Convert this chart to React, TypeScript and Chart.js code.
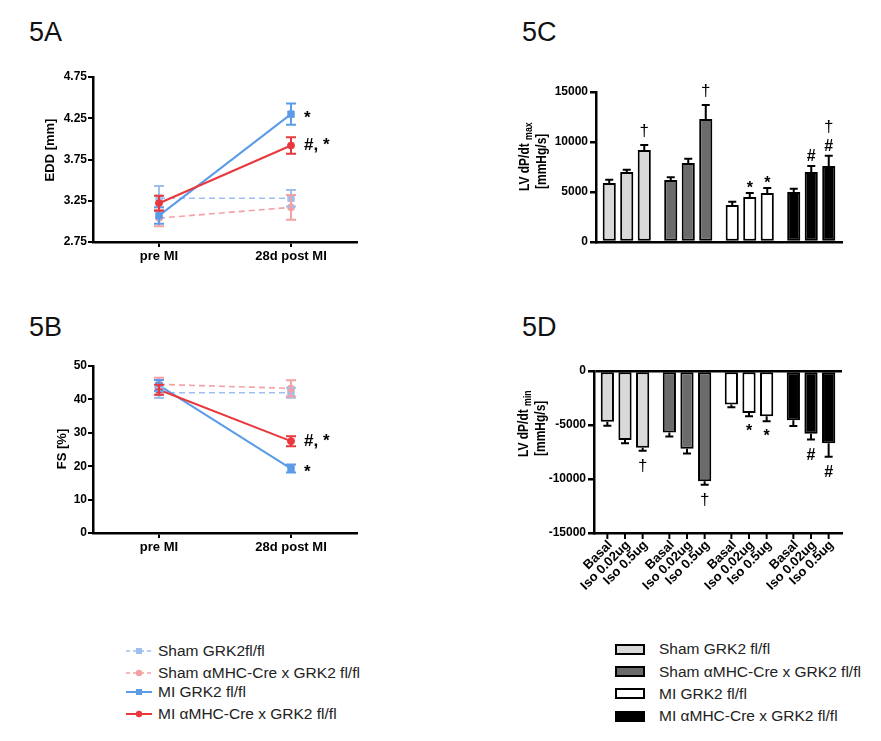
import React, { useEffect, useRef } from "react";
import { Chart, registerables } from "chart.js";

Chart.register(...registerables);

const FONT = '"Liberation Sans", Arial, Helvetica, sans-serif';
Chart.defaults.font.family = FONT;
Chart.defaults.color = "#000";

// ---------------- 5A / 5B data ----------------
const timePoints = ["pre MI", "28d post MI"];
const lineSeries = [
  "Sham GRK2fl/fl",
  "Sham αMHC-Cre x GRK2 fl/fl",
  "MI GRK2 fl/fl",
  "MI αMHC-Cre x GRK2 fl/fl",
];

const eddShamFl = [3.28, 3.28];
const eddShamFlErr = [0.15, 0.1];
const eddShamCre = [3.04, 3.17];
const eddShamCreErr = [0.1, 0.15];
const eddMiFl = [3.07, 4.3];
const eddMiFlErr = [0.1, 0.13];
const eddMiCre = [3.22, 3.92];
const eddMiCreErr = [0.09, 0.1];
const eddMiFlMarks = ["", "*"];
const eddMiCreMarks = ["", "#, *"];

const fsShamFl = [42, 42];
const fsShamFlErr = [1.6, 1.5];
const fsShamCre = [44.5, 43.3];
const fsShamCreErr = [2.0, 2.4];
const fsMiFl = [44.2, 19.3];
const fsMiFlErr = [1.6, 1.2];
const fsMiCre = [42.9, 27.5];
const fsMiCreErr = [1.5, 1.5];
const fsMiFlMarks = ["", "*"];
const fsMiCreMarks = ["", "#, *"];

// ---------------- 5C / 5D data ----------------
const barGroups = [
  "Sham GRK2 fl/fl",
  "Sham αMHC-Cre x GRK2 fl/fl",
  "MI GRK2 fl/fl",
  "MI αMHC-Cre x GRK2 fl/fl",
];
const doses = ["Basal", "Iso 0.02ug", "Iso 0.5ug"];

const maxBasal = [5900, 6200, 3700, 5000];
const maxBasalErr = [330, 270, 330, 330];
const maxIsoLow = [7000, 7900, 4500, 7000];
const maxIsoLowErr = [230, 430, 400, 600];
const maxIsoHigh = [9200, 12300, 4900, 7600];
const maxIsoHighErr = [500, 1400, 500, 1030];
const maxBasalMarks = [[], [], [], []];
const maxIsoLowMarks = [[], [], ["*"], ["#"]];
const maxIsoHighMarks = [["†"], ["†"], ["*"], ["#", "†"]];

const minBasal = [-4700, -5700, -3100, -4550];
const minBasalErr = [370, 370, 250, 550];
const minIsoLow = [-6400, -7200, -3900, -5800];
const minIsoLowErr = [300, 430, 280, 550];
const minIsoHigh = [-7100, -10200, -4200, -6700];
const minIsoHighErr = [280, 340, 460, 1230];
const minBasalMarks = [[], [], [], []];
const minIsoLowMarks = [[], [], ["*"], ["#"]];
const minIsoHighMarks = [["†"], ["†"], ["*"], ["#"]];

const panelTitles = ["5A", "5B", "5C", "5D"];
const eddTitle = "EDD [mm]";
const fsTitle = "FS [%]";
const dpTitleMain = "LV dP/dt ";
const dpMaxSub = "max";
const dpMinSub = "min";
const dpUnit = "[mmHg/s]";

// ---------------- styling ----------------
const C = {
  shamFl: "#9fc0ef",
  shamCre: "#f3a1a4",
  miFl: "#5b9be8",
  miCre: "#e8383d",
};
const groupColors = ["#d9d9d9", "#6b6b6b", "#ffffff", "#000000"];

// ---------------- plugins ----------------
function glyphFont(t: string) {
  return t === "†" ? `17px ${FONT}` : `bold 16px ${FONT}`;
}

function drawCentered(ctx: CanvasRenderingContext2D, text: string, x: number, cy: number, align: CanvasTextAlign) {
  ctx.textAlign = align;
  ctx.textBaseline = "alphabetic";
  const m = ctx.measureText(text);
  const asc = m.actualBoundingBoxAscent;
  const desc = m.actualBoundingBoxDescent;
  ctx.fillText(text, x, cy + (asc - desc) / 2);
  return asc + desc;
}

const errorPlugin = {
  id: "errBars",
  afterDatasetsDraw(chart: any) {
    const ctx: CanvasRenderingContext2D = chart.ctx;
    const yScale = chart.scales.y;
    const isBar = chart.config.type === "bar";
    chart.data.datasets.forEach((ds: any, i: number) => {
      const meta = chart.getDatasetMeta(i);
      if (!ds.errors) return;
      meta.data.forEach((el: any, j: number) => {
        const v = ds.data[j];
        const e = ds.errors[j];
        const x = el.x;
        ctx.save();
        ctx.strokeStyle = isBar ? "#000" : ds.borderColor;
        ctx.lineWidth = 2;
        ctx.beginPath();
        if (isBar) {
          const end = v >= 0 ? v + e : v - e;
          const y0 = yScale.getPixelForValue(v);
          const y1 = yScale.getPixelForValue(end);
          ctx.moveTo(x, y0);
          ctx.lineTo(x, y1);
          ctx.moveTo(x - 4, y1);
          ctx.lineTo(x + 4, y1);
          ctx.stroke();
          const marks: string[] = (ds.marks && ds.marks[j]) || [];
          ctx.fillStyle = "#000";
          let edge = y1;
          marks.forEach((t: string, k: number) => {
            ctx.font = glyphFont(t);
            const m = ctx.measureText(t);
            const h = m.actualBoundingBoxAscent + m.actualBoundingBoxDescent;
            const gap = k === 0 ? (v >= 0 ? (t === "†" ? 8 : 5) : 8) : 6;
            const cy = v >= 0 ? edge - gap - h / 2 : edge + gap + h / 2;
            drawCentered(ctx, t, x, cy, "center");
            edge = v >= 0 ? cy - h / 2 : cy + h / 2;
          });
        } else {
          const yt = yScale.getPixelForValue(v + e);
          const yb = yScale.getPixelForValue(v - e);
          ctx.moveTo(x, yt);
          ctx.lineTo(x, yb);
          ctx.moveTo(x - 5, yt);
          ctx.lineTo(x + 5, yt);
          ctx.moveTo(x - 5, yb);
          ctx.lineTo(x + 5, yb);
          ctx.stroke();
          const t = ds.marks ? ds.marks[j] : "";
          if (t) {
            ctx.fillStyle = "#000";
            ctx.font = `bold 17px ${FONT}`;
            drawCentered(ctx, t, x + 13, el.y, "left");
          }
        }
        ctx.restore();
      });
    });
  },
};

const sideTitlePlugin = {
  id: "sideTitle",
  afterDraw(chart: any, _args: any, opts: any) {
    const ctx: CanvasRenderingContext2D = chart.ctx;
    (opts.lines || []).forEach((line: any) => {
      ctx.save();
      ctx.translate(line.x, line.y);
      ctx.rotate(-Math.PI / 2);
      ctx.scale(line.squeeze || 1, 1);
      ctx.fillStyle = "#000";
      ctx.textBaseline = "middle";
      ctx.textAlign = "left";
      const mainFont = `bold ${line.size}px ${FONT}`;
      const subFont = `bold ${Math.round(line.size * 0.72)}px ${FONT}`;
      let total = 0;
      line.parts.forEach((p: any) => {
        ctx.font = p.sub ? subFont : mainFont;
        total += ctx.measureText(p.text).width;
      });
      let cx = line.align === "center" ? -total / 2 : 0;
      line.parts.forEach((p: any) => {
        ctx.font = p.sub ? subFont : mainFont;
        ctx.fillText(p.text, cx, p.sub ? 4 : 0);
        cx += ctx.measureText(p.text).width;
      });
      ctx.restore();
    });
  },
};

const barLabelPlugin = {
  id: "barLabels",
  afterDraw(chart: any, _args: any, opts: any) {
    if (!opts.labels) return;
    const ctx: CanvasRenderingContext2D = chart.ctx;
    const bottom = chart.chartArea.bottom;
    chart.data.datasets.forEach((_ds: any, i: number) => {
      const meta = chart.getDatasetMeta(i);
      meta.data.forEach((el: any) => {
        ctx.save();
        ctx.strokeStyle = "#000";
        ctx.lineWidth = 2;
        ctx.beginPath();
        ctx.moveTo(el.x, bottom);
        ctx.lineTo(el.x, bottom + 6);
        ctx.stroke();
        ctx.translate(el.x + 3, bottom + 10);
        ctx.rotate(-Math.PI / 4);
        ctx.font = `bold 13px ${FONT}`;
        ctx.fillStyle = "#000";
        ctx.textAlign = "right";
        ctx.textBaseline = "middle";
        ctx.fillText(opts.labels[i], 0, 0);
        ctx.restore();
      });
    });
  },
};

// ---------------- config builders ----------------
type LineSpec = {
  shamFl: number[]; shamFlErr: number[];
  shamCre: number[]; shamCreErr: number[];
  miFl: number[]; miFlErr: number[];
  miCre: number[]; miCreErr: number[];
  miFlMarks: string[]; miCreMarks: string[];
  min: number; max: number; step: number; decimals: number;
  padTop: number; xHeight: number;
  title: any;
};

function lineConfig(p: LineSpec): any {
  const mk = (label: string, data: number[], errors: number[], color: string, dashed: boolean, rect: boolean, order: number, marks?: string[]) => ({
    label, data, errors, marks,
    borderColor: color,
    backgroundColor: color,
    pointBackgroundColor: color,
    pointBorderColor: color,
    borderWidth: dashed ? 1.6 : 2,
    borderDash: dashed ? [6, 4] : [],
    pointStyle: rect ? "rect" : "circle",
    pointRadius: rect ? 4.5 : 3.5,
    pointBorderWidth: 1,
    tension: 0,
    order,
  });
  return {
    type: "line",
    data: {
      labels: timePoints,
      datasets: [
        mk(lineSeries[0], p.shamFl, p.shamFlErr, C.shamFl, true, true, 3),
        mk(lineSeries[1], p.shamCre, p.shamCreErr, C.shamCre, true, false, 2),
        mk(lineSeries[2], p.miFl, p.miFlErr, C.miFl, false, true, 1, p.miFlMarks),
        mk(lineSeries[3], p.miCre, p.miCreErr, C.miCre, false, false, 0, p.miCreMarks),
      ],
    },
    options: {
      animation: false,
      responsive: false,
      layout: { padding: { left: 30, top: p.padTop, right: 63, bottom: 0 } },
      plugins: { legend: { display: false }, tooltip: { enabled: false }, sideTitle: p.title },
      scales: {
        x: {
          type: "category",
          offset: true,
          grid: { display: true, drawOnChartArea: false, offset: false, tickLength: 5, lineWidth: 2, color: "#000" },
          border: { display: true, color: "#000", width: 2.5 },
          ticks: { font: { weight: "bold", size: 13 }, color: "#000", padding: 2, maxRotation: 0 },
          afterFit: (s: any) => { s.height = p.xHeight; },
        },
        y: {
          min: p.min,
          max: p.max,
          grid: { display: true, drawOnChartArea: false, tickLength: 5, lineWidth: 2, color: "#000" },
          border: { display: true, color: "#000", width: 2.5 },
          ticks: {
            stepSize: p.step,
            font: { weight: "bold", size: 12 },
            color: "#000",
            padding: 1,
            callback: (v: any) => Number(v).toFixed(p.decimals),
          },
          afterFit: (s: any) => { s.width = 63; },
        },
      },
    },
    plugins: [errorPlugin, sideTitlePlugin],
  };
}

type BarSpec = {
  basal: number[]; basalErr: number[]; basalMarks: string[][];
  low: number[]; lowErr: number[]; lowMarks: string[][];
  high: number[]; highErr: number[]; highMarks: string[][];
  min: number; max: number;
  yWidth: number; padTop: number; xHeight: number;
  zeroLine: boolean; labels: boolean;
  title: any;
};

function barConfig(p: BarSpec): any {
  const mk = (label: string, data: number[], errors: number[], marks: string[][]) => ({
    label, data, errors, marks,
    backgroundColor: groupColors,
    borderColor: "#000",
    borderWidth: 2,
    borderSkipped: false,
    categoryPercentage: 0.854,
    barPercentage: 0.75,
  });
  return {
    type: "bar",
    data: {
      labels: barGroups,
      datasets: [
        mk(doses[0], p.basal, p.basalErr, p.basalMarks),
        mk(doses[1], p.low, p.lowErr, p.lowMarks),
        mk(doses[2], p.high, p.highErr, p.highMarks),
      ],
    },
    options: {
      animation: false,
      responsive: false,
      layout: { padding: { left: 0, top: p.padTop, right: 39, bottom: 0 } },
      plugins: {
        legend: { display: false },
        tooltip: { enabled: false },
        sideTitle: p.title,
        barLabels: { labels: p.labels ? doses : null },
      },
      scales: {
        x: {
          type: "category",
          grid: { display: false },
          border: { display: true, color: "#000", width: 2.5 },
          ticks: { display: false },
          afterFit: (s: any) => { s.height = p.xHeight; },
        },
        y: {
          min: p.min,
          max: p.max,
          grid: {
            display: true,
            drawOnChartArea: p.zeroLine,
            tickLength: 6,
            lineWidth: 2.5,
            color: (c: any) => (p.zeroLine && c.tick && c.tick.value === 0 ? "#000" : "rgba(0,0,0,0)"),
            tickColor: "#000",
          },
          border: { display: true, color: "#000", width: 2.5 },
          ticks: {
            stepSize: 5000,
            font: { weight: "bold", size: 12 },
            color: "#000",
            padding: 2,
            callback: (v: any) => String(Math.round(Number(v))),
          },
          afterFit: (s: any) => { s.width = p.yWidth; },
        },
      },
    },
    plugins: [errorPlugin, sideTitlePlugin, barLabelPlugin],
  };
}

// ---------------- components ----------------
function ChartBox({ left, top, width, height, make }: { left: number; top: number; width: number; height: number; make: () => any }) {
  const ref = useRef<HTMLCanvasElement | null>(null);
  useEffect(() => {
    const chart = new Chart(ref.current as HTMLCanvasElement, make());
    return () => chart.destroy();
  }, []);
  return (
    <canvas
      ref={ref}
      width={width}
      height={height}
      style={{ position: "absolute", left, top, width, height }}
    />
  );
}

function LineSample({ color, dashed, rect }: { color: string; dashed: boolean; rect: boolean }) {
  return (
    <svg width={26} height={12} style={{ display: "block" }}>
      <line x1={0} y1={6} x2={26} y2={6} stroke={color} strokeWidth={dashed ? 1.6 : 2} strokeDasharray={dashed ? "4 3" : undefined} />
      {rect ? <rect x={10} y={3} width={6} height={6} fill={color} /> : <circle cx={13} cy={6} r={3.2} fill={color} />}
    </svg>
  );
}

const lineLegendColors = [C.shamFl, C.shamCre, C.miFl, C.miCre];
const lineLegendDashed = [true, true, false, false];
const lineLegendRect = [true, false, true, false];
const lineLegendRows = [650.5, 672.5, 692, 714];
const barLegendRows = [649, 671.5, 693.5, 716];

export default function App() {
  const titleStyle = (left: number, top: number): React.CSSProperties => ({
    position: "absolute", left, top, fontFamily: FONT, fontSize: 27, lineHeight: 1, color: "#111",
  });
  return (
    <div style={{ position: "absolute", left: 0, top: 0, width: 881, height: 741, background: "#fff", overflow: "hidden", fontFamily: FONT }}>
      <div style={titleStyle(29, 19)}>{panelTitles[0]}</div>
      <div style={titleStyle(29, 313.5)}>{panelTitles[1]}</div>
      <div style={titleStyle(522, 19)}>{panelTitles[2]}</div>
      <div style={titleStyle(522, 313.5)}>{panelTitles[3]}</div>

      <ChartBox left={0} top={60} width={420} height={230} make={() => lineConfig({
        shamFl: eddShamFl, shamFlErr: eddShamFlErr, shamCre: eddShamCre, shamCreErr: eddShamCreErr,
        miFl: eddMiFl, miFlErr: eddMiFlErr, miCre: eddMiCre, miCreErr: eddMiCreErr,
        miFlMarks: eddMiFlMarks, miCreMarks: eddMiCreMarks,
        min: 2.75, max: 4.75, step: 0.5, decimals: 2, padTop: 17, xHeight: 48,
        title: { lines: [{ x: 50, y: 90, size: 13, align: "center", parts: [{ text: eddTitle }] }] },
      })} />

      <ChartBox left={0} top={345} width={420} height={230} make={() => lineConfig({
        shamFl: fsShamFl, shamFlErr: fsShamFlErr, shamCre: fsShamCre, shamCreErr: fsShamCreErr,
        miFl: fsMiFl, miFlErr: fsMiFlErr, miCre: fsMiCre, miCreErr: fsMiCreErr,
        miFlMarks: fsMiFlMarks, miCreMarks: fsMiCreMarks,
        min: 0, max: 50, step: 10, decimals: 0, padTop: 21, xHeight: 42,
        title: { lines: [{ x: 62, y: 104, size: 13, align: "center", parts: [{ text: fsTitle }] }] },
      })} />

      <ChartBox left={500} top={70} width={381} height={200} make={() => barConfig({
        basal: maxBasal, basalErr: maxBasalErr, basalMarks: maxBasalMarks,
        low: maxIsoLow, lowErr: maxIsoLowErr, lowMarks: maxIsoLowMarks,
        high: maxIsoHigh, highErr: maxIsoHighErr, highMarks: maxIsoHighMarks,
        min: 0, max: 15000, yWidth: 96, padTop: 22, xHeight: 28, zeroLine: false, labels: false,
        title: { lines: [
          { x: 25, y: 121, size: 15, squeeze: 0.8, align: "left", parts: [{ text: dpTitleMain }, { text: dpMaxSub, sub: true }] },
          { x: 42, y: 119, size: 15, squeeze: 0.8, align: "left", parts: [{ text: dpUnit }] },
        ] },
      })} />

      <ChartBox left={500} top={350} width={381} height={270} make={() => barConfig({
        basal: minBasal, basalErr: minBasalErr, basalMarks: minBasalMarks,
        low: minIsoLow, lowErr: minIsoLowErr, lowMarks: minIsoLowMarks,
        high: minIsoHigh, highErr: minIsoHighErr, highMarks: minIsoHighMarks,
        min: -15000, max: 0, yWidth: 94, padTop: 21, xHeight: 87, zeroLine: true, labels: true,
        title: { lines: [
          { x: 24, y: 107, size: 15, squeeze: 0.8, align: "left", parts: [{ text: dpTitleMain }, { text: dpMinSub, sub: true }] },
          { x: 41, y: 106, size: 15, squeeze: 0.8, align: "left", parts: [{ text: dpUnit }] },
        ] },
      })} />

      {lineSeries.map((name, i) => (
        <div key={name} style={{ position: "absolute", left: 126, top: lineLegendRows[i] - 9, height: 18, display: "flex", alignItems: "center", whiteSpace: "nowrap" }}>
          <LineSample color={lineLegendColors[i]} dashed={lineLegendDashed[i]} rect={lineLegendRect[i]} />
          <span style={{ marginLeft: 6, fontSize: 15.5, lineHeight: "18px", color: "#222" }}>{name}</span>
        </div>
      ))}

      {barGroups.map((name, i) => (
        <div key={name} style={{ position: "absolute", left: 615, top: barLegendRows[i] - 9, height: 18, display: "flex", alignItems: "center", whiteSpace: "nowrap" }}>
          <div style={{ width: 30, height: 11, boxSizing: "border-box", border: "2px solid #000", background: groupColors[i] }} />
          <span style={{ marginLeft: 14, fontSize: 15.5, lineHeight: "18px", color: "#222" }}>{name}</span>
        </div>
      ))}
    </div>
  );
}
